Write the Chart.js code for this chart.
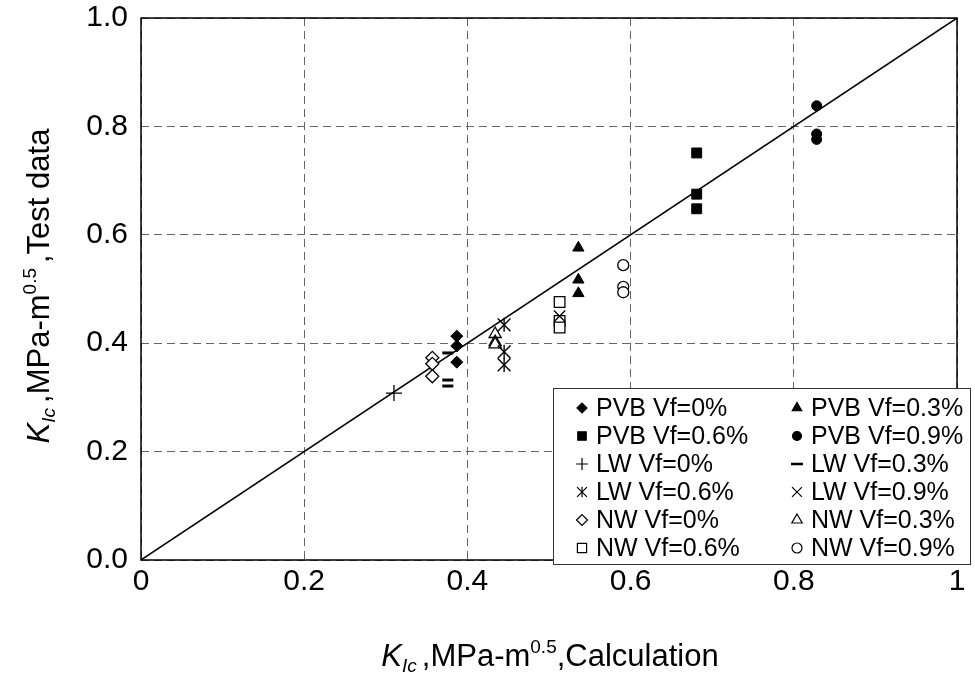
<!DOCTYPE html>
<html><head><meta charset="utf-8">
<script src="https://cdn.jsdelivr.net/npm/chart.js@4/dist/chart.umd.min.js"></script>
<style>html,body{margin:0;padding:0;background:#fff;}#wrap{width:975px;height:683px;position:relative;}</style>
</head><body><div id="wrap"><canvas id="c" width="975" height="683"></canvas></div>
<script>
// ---- data ----
const xTicks = [0, 0.2, 0.4, 0.6, 0.8, 1];
const yTicks = [0, 0.2, 0.4, 0.6, 0.8, 1.0];
const seriesNames = ["PVB Vf=0%", "PVB Vf=0.3%", "PVB Vf=0.6%", "PVB Vf=0.9%",
  "LW Vf=0%", "LW Vf=0.3%", "LW Vf=0.6%", "LW Vf=0.9%",
  "NW Vf=0%", "NW Vf=0.3%", "NW Vf=0.6%", "NW Vf=0.9%"];
const pvb0X = [0.387, 0.387, 0.387];  const pvb0Y = [0.413, 0.395, 0.365];
const pvb3X = [0.536, 0.536, 0.536];  const pvb3Y = [0.576, 0.517, 0.492];
const pvb6X = [0.681, 0.681, 0.681];  const pvb6Y = [0.751, 0.675, 0.648];
const pvb9X = [0.828, 0.828, 0.828];  const pvb9Y = [0.838, 0.786, 0.776];
const lw0X  = [0.310];                const lw0Y  = [0.308];
const lw3X  = [0.376, 0.376, 0.376];  const lw3Y  = [0.382, 0.332, 0.321];
const lw6X  = [0.445, 0.445, 0.445];  const lw6Y  = [0.434, 0.384, 0.360];
const lw9X  = [0.513];                const lw9Y  = [0.450];
const nw0X  = [0.357, 0.357, 0.357];  const nw0Y  = [0.373, 0.362, 0.339];
const nw3X  = [0.434, 0.434, 0.434];  const nw3Y  = [0.417, 0.402, 0.398];
const nw6X  = [0.513, 0.513, 0.513];  const nw6Y  = [0.476, 0.441, 0.429];
const nw9X  = [0.591, 0.591, 0.591];  const nw9Y  = [0.544, 0.504, 0.494];
const refLineX = [0, 1];              const refLineY = [0, 1];

// ---- helpers ----
const FONT = "'Liberation Sans', Arial, sans-serif";
function pts(xs, ys) { return xs.map((x, i) => ({x: x, y: ys[i]})); }

const styles = [
  {ps: 'rectRot', r: 6, fill: '#000', bw: 1, lr: 5},
  {ps: 'triangle', r: 6.5, fill: '#000', bw: 1, lr: 5.5},
  {ps: 'rect', r: 7, fill: '#000', bw: 1, lr: 6},
  {ps: 'circle', r: 5, fill: '#000', bw: 1, lr: 4.5},
  {ps: 'cross', r: 8, fill: '#000', bw: 1.3, lr: 6},
  {ps: 'line', r: 5.5, fill: '#000', bw: 3, lr: 6, lbw: 2.5},
  {ps: 'crossRot', r: 9, fill: '#000', bw: 1.4, lr: 7, extra: {ps: 'line', rot: 90, r: 7}},
  {ps: 'crossRot', r: 8, fill: '#000', bw: 1.3, lr: 7},
  {ps: 'rectRot', r: 6.5, fill: '#fff', bw: 1.3, lr: 5.5},
  {ps: 'triangle', r: 7, fill: '#fff', bw: 1.3, lr: 6},
  {ps: 'rect', r: 7.5, fill: '#fff', bw: 1.3, lr: 6.5},
  {ps: 'circle', r: 5.5, fill: '#fff', bw: 1.3, lr: 5}
];
const seriesData = [
  pts(pvb0X, pvb0Y), pts(pvb3X, pvb3Y), pts(pvb6X, pvb6Y), pts(pvb9X, pvb9Y),
  pts(lw0X, lw0Y), pts(lw3X, lw3Y), pts(lw6X, lw6Y), pts(lw9X, lw9Y),
  pts(nw0X, nw0Y), pts(nw3X, nw3Y), pts(nw6X, nw6Y), pts(nw9X, nw9Y)
];

const datasets = [{
  label: 'y=x', data: pts(refLineX, refLineY), showLine: true,
  borderColor: '#000', borderWidth: 1.5, pointRadius: 0, order: 100
}];
seriesNames.forEach((n, i) => {
  const s = styles[i];
  datasets.push({
    label: n, data: seriesData[i], showLine: false,
    pointStyle: s.ps, pointRadius: s.r, pointHoverRadius: s.r,
    pointBackgroundColor: s.fill, pointBorderColor: '#000', pointBorderWidth: s.bw,
    order: i
  });
  if (s.extra) {
    datasets.push({
      label: n + ' (arm)', data: seriesData[i], showLine: false,
      pointStyle: s.extra.ps, pointRotation: s.extra.rot,
      pointRadius: s.extra.r, pointHoverRadius: s.extra.r,
      pointBorderColor: '#000', pointBorderWidth: s.bw, order: i
    });
  }
});

function drawRich(ctx, parts, x, y, rot) {
  ctx.save();
  ctx.translate(x, y);
  if (rot) ctx.rotate(-Math.PI / 2);
  let total = 0;
  parts.forEach(p => { ctx.font = (p.it ? 'italic ' : '') + p.s + 'px ' + FONT; p.w = ctx.measureText(p.t).width + (p.gap || 0); total += p.w; });
  let cx = -total / 2;
  ctx.fillStyle = '#000'; ctx.textBaseline = 'alphabetic'; ctx.textAlign = 'left';
  parts.forEach(p => { ctx.font = (p.it ? 'italic ' : '') + p.s + 'px ' + FONT; ctx.fillText(p.t, cx, p.dy || 0); cx += p.w; });
  ctx.restore();
}

const decor = {
  id: 'decor',
  afterDatasetsDraw(chart) {
    const ctx = chart.ctx, a = chart.chartArea;
    ctx.save();
    ctx.strokeStyle = '#000'; ctx.lineWidth = 1.5;
    ctx.strokeRect(a.left, a.top, a.right - a.left, a.bottom - a.top);
    ctx.restore();
  },
  afterDraw(chart) {
    const ctx = chart.ctx;
    const big = 31, small = 19;
    drawRich(ctx, [
      {t: 'K', it: true, s: big}, {t: 'Ic', it: true, s: small, dy: 6, gap: 5},
      {t: ',MPa-m', s: big}, {t: '0.5', s: small, dy: -13}, {t: ',Calculation', s: big}
    ], 550, 666, false);
    drawRich(ctx, [
      {t: 'K', it: true, s: big}, {t: 'Ic', it: true, s: small, dy: 6, gap: 5},
      {t: ',MPa-m', s: big}, {t: '0.5', s: small, dy: -13, gap: 5}, {t: ',Test data', s: big}
    ], 49, 286, true);
    // legend
    const L = 553, T = 388, R = 970, B = 564;
    ctx.save();
    ctx.fillStyle = '#fff'; ctx.fillRect(L, T, R - L, B - T);
    ctx.strokeStyle = '#333'; ctx.lineWidth = 1; ctx.strokeRect(L + 0.5, T + 0.5, R - L, B - T);
    ctx.font = '25px ' + FONT; ctx.textBaseline = 'middle'; ctx.textAlign = 'left';
    seriesNames.forEach((n, i) => {
      const col = i % 2, row = Math.floor(i / 2);
      const sx = col ? 797 : 582, tx = col ? 811 : 596, y = 408 + row * 28;
      const s = styles[i];
      ctx.fillStyle = s.fill; ctx.strokeStyle = '#000';
      const bw = s.lbw || 1.2;
      ctx.lineWidth = bw;
      Chart.helpers.drawPoint(ctx, {pointStyle: s.ps, radius: s.lr, borderWidth: bw, rotation: 0}, sx, y);
      if (s.extra) {
        Chart.helpers.drawPoint(ctx, {pointStyle: s.extra.ps, radius: s.lr * 0.75, borderWidth: bw, rotation: s.extra.rot}, sx, y);
      }
      ctx.fillStyle = '#000';
      ctx.fillText(n, tx, y + 1);
    });
    ctx.restore();
  }
};

new Chart(document.getElementById('c'), {
  type: 'scatter',
  data: {datasets: datasets},
  plugins: [decor],
  options: {
    responsive: false, animation: false, devicePixelRatio: 1,
    layout: {padding: {top: 18, right: 18, left: 0, bottom: 0}},
    plugins: {legend: {display: false}, tooltip: {enabled: false}},
    scales: {
      x: {
        type: 'linear', min: 0, max: 1,
        afterBuildTicks: s => { s.ticks = xTicks.map(v => ({value: v})); },
        afterFit: s => { s.height = 123; s.paddingLeft = 0; s.paddingRight = 0; },
        border: {display: false, dash: [8, 5]},
        grid: {color: '#666', lineWidth: 1, drawTicks: false},
        ticks: {color: '#000', padding: 4, font: {family: FONT, size: 30}, maxRotation: 0,
          callback: v => String(v)}
      },
      y: {
        type: 'linear', min: 0, max: 1,
        afterBuildTicks: s => { s.ticks = yTicks.map(v => ({value: v})); },
        afterFit: s => { s.width = 141; s.paddingTop = 0; s.paddingBottom = 0; },
        border: {display: false, dash: [8, 5]},
        grid: {color: '#666', lineWidth: 1, drawTicks: false},
        ticks: {color: '#000', padding: 13, font: {family: FONT, size: 30},
          callback: v => v.toFixed(1)}
      }
    }
  }
});
</script></body></html>
